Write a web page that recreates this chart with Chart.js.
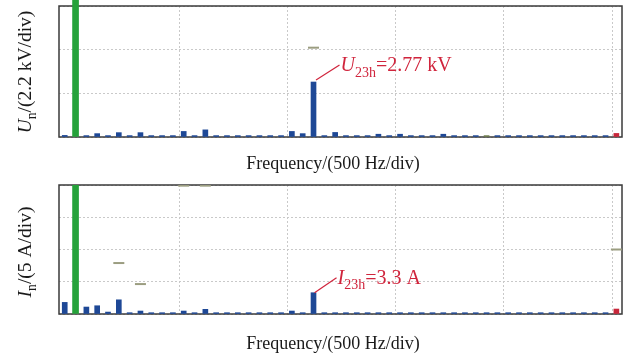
<!DOCTYPE html>
<html>
<head>
<meta charset="utf-8">
<script src="https://cdn.jsdelivr.net/npm/chart.js@4.4.1/dist/chart.umd.min.js"></script>
<style>
  html, body { margin: 0; padding: 0; background: #fff; overflow: hidden; }
  .panel { position: absolute; left: 0; width: 624px; height: 179px; }
</style>
</head>
<body>
<div class="panel" style="top:0"><canvas id="uChart"></canvas></div>
<div class="panel" style="top:179px"><canvas id="iChart"></canvas></div>
<script>
// harmonic order of every bar (0 = DC, 1 = fundamental)
const orders = [0, 1, 2, 3, 4, 5, 6, 7, 8, 9, 10, 11, 12, 13, 14, 15, 16, 17, 18, 19, 20, 21, 22, 23, 24, 25,
  26, 27, 28, 29, 30, 31, 32, 33, 34, 35, 36, 37, 38, 39, 40, 41, 42, 43, 44, 45, 46, 47, 48, 49, 50, 51];

// voltage spectrum, kV (fundamental is off scale)
const uValues = [0.08, 9.0, 0.07, 0.17, 0.07, 0.22, 0.07, 0.22, 0.07, 0.07, 0.07, 0.28, 0.07, 0.36, 0.07, 0.07,
  0.07, 0.07, 0.07, 0.07, 0.07, 0.28, 0.17, 2.77, 0.07, 0.23, 0.07, 0.07, 0.07, 0.14, 0.07, 0.14, 0.07, 0.07,
  0.07, 0.14, 0.07, 0.07, 0.07, 0.07, 0.07, 0.07, 0.07, 0.07, 0.07, 0.07, 0.07, 0.07, 0.07, 0.07, 0.07, 0.18];

// current spectrum, A (fundamental is off scale)
const iValues = [1.8, 30, 1.08, 1.28, 0.3, 2.2, 0.2, 0.46, 0.2, 0.2, 0.2, 0.46, 0.2, 0.72, 0.2, 0.2, 0.2, 0.2,
  0.2, 0.2, 0.2, 0.46, 0.2, 3.3, 0.2, 0.2, 0.2, 0.2, 0.2, 0.2, 0.2, 0.2, 0.2, 0.2, 0.2, 0.2, 0.2, 0.2, 0.2, 0.2,
  0.2, 0.2, 0.2, 0.2, 0.2, 0.2, 0.2, 0.2, 0.2, 0.2, 0.2, 0.77];

// limit markers
const uLimitOrders = [23];
const uLimitValues = [4.5];
const iLimitOrders = [5, 7, 11, 13, 51];
const iLimitValues = [7.9, 4.64, 19.9, 19.9, 10];

// vertical grid (500 Hz/div)
const gridOrders = [10.6, 20.6, 30.6, 40.6, 50.6];

const BLUE = '#1e4896';
const GREEN = '#25a23a';
const RED = '#c8263a';
const OLIVE = '#6d7d4c';
const LIMIT = '#9b9d80';
const NOTE = '#d0243c';
const SERIF = '"Liberation Serif", "Times New Roman", serif';

function richWidth(ctx, parts, size) {
  let w = 0;
  for (const p of parts) {
    const s = p.sub ? size * 0.7 : size;
    ctx.font = (p.italic ? 'italic ' : '') + s + 'px ' + SERIF;
    w += ctx.measureText(p.text).width;
  }
  return w;
}

function drawRich(ctx, parts, x, y, size, color) {
  let cx = x;
  ctx.fillStyle = color;
  ctx.textBaseline = 'alphabetic';
  ctx.textAlign = 'left';
  for (const p of parts) {
    const s = p.sub ? size * 0.7 : size;
    ctx.font = (p.italic ? 'italic ' : '') + s + 'px ' + SERIF;
    ctx.fillText(p.text, cx, y + (p.sub ? size * 0.28 : 0));
    cx += ctx.measureText(p.text).width;
  }
}

const decor = {
  id: 'decor',
  beforeDatasetsDraw(chart) {
    const { ctx, chartArea: a } = chart;
    ctx.save();
    ctx.strokeStyle = '#3a3a3a';
    ctx.lineWidth = 1.5;
    ctx.strokeRect(a.left, a.top, a.right - a.left, a.bottom - a.top);
    ctx.restore();
  },
  afterDatasetsDraw(chart, args, opts) {
    const { ctx } = chart;
    const xs = chart.scales.x, ys = chart.scales.y;
    ctx.save();
    // note on the 23rd harmonic
    const n = opts.note;
    const bx = xs.getPixelForValue(n.order);
    const by = ys.getPixelForValue(n.value);
    ctx.strokeStyle = NOTE;
    ctx.lineWidth = 1.2;
    ctx.beginPath();
    ctx.moveTo(bx + n.dx0, by + n.dy0);
    ctx.lineTo(bx + n.dx1, by + n.dy1);
    ctx.stroke();
    drawRich(ctx, n.parts, bx + n.dx1 + 1, by + n.dy1 + 6, 20, NOTE);

    // x title
    ctx.font = '18px ' + SERIF;
    ctx.fillStyle = '#1a1a1a';
    ctx.textAlign = 'center';
    ctx.fillText('Frequency/(500 Hz/div)', 333, opts.xTitleY);

    // y title, rotated
    const w = richWidth(ctx, opts.yTitle, 19.5);
    ctx.translate(31, opts.yTitleMid);
    ctx.rotate(-Math.PI / 2);
    drawRich(ctx, opts.yTitle, -w / 2, 0, 19.5, '#1a1a1a');
    ctx.restore();
  }
};

function makeChart(id, values, limitOrders, limitValues, yMax, yStep, extra) {
  const blue = [], fund = [], colors = [];
  orders.forEach((o, i) => {
    if (o === 1) { fund.push({ x: o, y: values[i] }); return; }
    blue.push({ x: o, y: values[i] });
    colors.push(o === 51 ? RED : (extra.olive.includes(o) ? OLIVE : BLUE));
  });
  const limits = limitOrders.map((o, i) => ({ x: o, y: limitValues[i] }));
  const grid = { color: '#c9c9c9', lineWidth: 1, drawTicks: false, offset: false };
  const border = { display: false, dash: [2, 2] };

  return new Chart(document.getElementById(id), {
    type: 'bar',
    data: {
      datasets: [
        { type: 'line', data: limits, showLine: false, pointStyle: 'line', pointRadius: 5.5,
          pointBorderWidth: 2, pointBorderColor: LIMIT, order: 0 },
        { data: blue, backgroundColor: colors, barThickness: 5, grouped: false, order: 1 },
        { data: fund, backgroundColor: GREEN, barThickness: 6, grouped: false, order: 1,
          clip: { left: 0, top: extra.fundClip, right: 0, bottom: 0 } }
      ]
    },
    options: {
      responsive: true,
      maintainAspectRatio: false,
      animation: false,
      events: [],
      layout: { padding: extra.padding, autoPadding: false },
      plugins: {
        legend: { display: false },
        tooltip: { enabled: false },
        decor: extra.decor
      },
      scales: {
        x: {
          type: 'linear', min: -0.53, max: 51.52, offset: false,
          ticks: { display: false }, grid, border,
          afterBuildTicks: (s) => { s.ticks = gridOrders.map((v) => ({ value: v })); }
        },
        y: {
          min: 0, max: yMax,
          ticks: { display: false, stepSize: yStep }, grid, border
        }
      }
    },
    plugins: [decor]
  });
}

makeChart('uChart', uValues, uLimitOrders, uLimitValues, 6.6, 2.2, {
  olive: [39],
  fundClip: 6,
  padding: { left: 59, right: 2, top: 6, bottom: 42 },
  decor: {
    xTitleY: 168.5,
    yTitleMid: 72,
    yTitle: [{ text: 'U', italic: true }, { text: 'n', sub: true }, { text: '/(2.2 kV/div)' }],
    note: { order: 23, value: 2.77, dx0: 2.5, dy0: -2, dx1: 26, dy1: -17,
      parts: [{ text: 'U', italic: true }, { text: '23h', sub: true }, { text: '=2.77 kV' }] }
  }
});

makeChart('iChart', iValues, iLimitOrders, iLimitValues, 20, 5, {
  olive: [],
  fundClip: 0,
  padding: { left: 59, right: 2, top: 6, bottom: 44 },
  decor: {
    xTitleY: 170,
    yTitleMid: 73,
    yTitle: [{ text: 'I', italic: true }, { text: 'n', sub: true }, { text: '/(5 A/div)' }],
    note: { order: 23, value: 3.3, dx0: 1, dy0: 0, dx1: 23, dy1: -15,
      parts: [{ text: 'I', italic: true }, { text: '23h', sub: true }, { text: '=3.3 A' }] }
  }
});
</script>
</body>
</html>
